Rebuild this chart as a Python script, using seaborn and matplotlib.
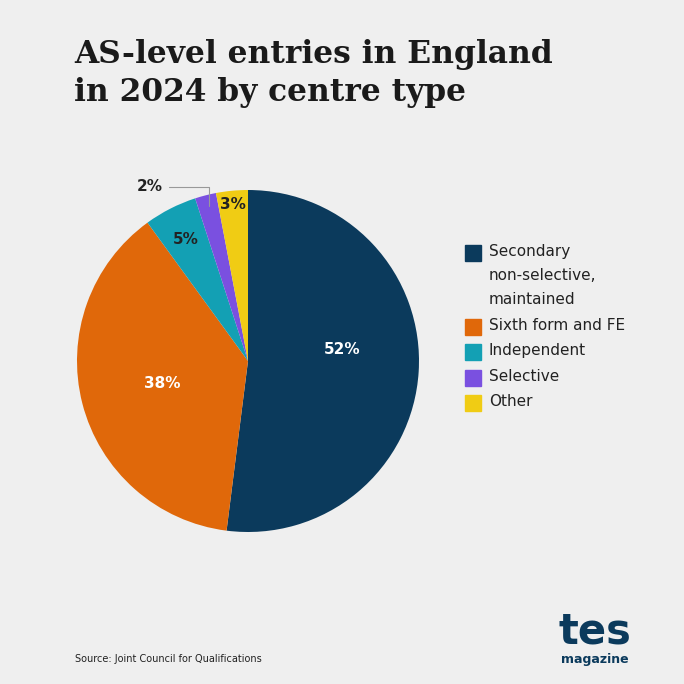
import matplotlib
matplotlib.use("Agg")
import matplotlib.pyplot as plt
import numpy as np
import seaborn as sns

categories = ["Secondary\nnon-selective,\nmaintained", "Sixth form and FE", "Independent", "Selective", "Other"]
shares = [52, 38, 5, 2, 3]
colors = ["#0b3a5c", "#e0680a", "#13a0b4", "#7a50e0", "#f0cc14"]
label_colors = ["white", "white", "#222222", "#222222", "#222222"]

sns.set_theme(style="white")
bg = "#efefef"
fig = plt.figure(figsize=(6.84, 6.84), dpi=100, facecolor=bg)

fig.text(0.108, 0.943, "AS-level entries in England\nin 2024 by centre type", fontsize=22.5,
         fontweight="bold", family="DejaVu Serif", color="#1a1a1a", va="top", linespacing=1.3)

# pie centred at (248, 361) px, radius ~171 px
r = 171 / 684
ax = fig.add_axes([248 / 684 - r, 1 - 361 / 684 - r, 2 * r, 2 * r])
ax.set_facecolor(bg)
wedges, _ = ax.pie(shares, colors=colors, startangle=90, counterclock=False,
                   wedgeprops=dict(linewidth=0))
ax.set_xlim(-1, 1)
ax.set_ylim(-1, 1)
ax.set_aspect("equal")

label_r = [0.55, 0.52, 0.8, None, 0.92]
for w, s, lc, lr in zip(wedges, shares, label_colors, label_r):
    ang = np.deg2rad((w.theta1 + w.theta2) / 2)
    if lr is None:
        x0, y0 = 0.92 * np.cos(ang), 0.92 * np.sin(ang)
        ax.annotate(f"{s}%", xy=(x0, y0), xytext=(-0.5, 1.02), fontsize=11, fontweight="bold",
                    color="#222222", ha="right", va="center", annotation_clip=False,
                    arrowprops=dict(arrowstyle="-", color="#999999", lw=0.8,
                                    connectionstyle="angle,angleA=0,angleB=90"))
        continue
    ax.text(lr * np.cos(ang), lr * np.sin(ang) + (0.1 if s == 52 else 0), f"{s}%",
            ha="center", va="center", fontsize=11, fontweight="bold", color=lc)

# legend
ly = [253, 327, 352, 378, 403]
for c, lab, y in zip(colors, categories, ly):
    fig.patches.append(plt.Rectangle((465 / 684, 1 - (y + 8) / 684), 16 / 684, 16 / 684,
                                     transform=fig.transFigure, color=c))
    fig.text(489 / 684, 1 - (y - 9) / 684, lab, fontsize=11, color="#222222", va="top",
             linespacing=1.75)

fig.text(75 / 684, 1 - 659 / 684, "Source: Joint Council for Qualifications", fontsize=7,
         color="#222222", va="center")
fig.text(595 / 684, 1 - 632 / 684, "tes", fontsize=30, fontweight="bold", color="#0b3a5c",
         ha="center", va="center")
fig.text(595 / 684, 1 - 660 / 684, "magazine", fontsize=9, fontweight="bold", color="#0b3a5c",
         ha="center", va="center")

fig.savefig("out.png", dpi=100, facecolor=bg)
